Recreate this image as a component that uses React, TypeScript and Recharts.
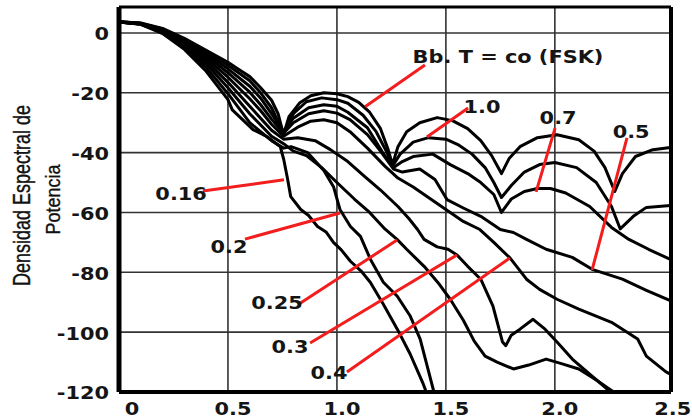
import React from 'react';
import { LineChart, Line, XAxis, YAxis, ReferenceLine, ReferenceDot } from 'recharts';

const X_MAX = 2.533;
const Y_MIN = -120;
const Y_MAX = 8.67;
const X_TICKS = [0, 0.5, 1, 1.5, 2, 2.5];
const X_TICK_LABELS = ['0', '0.5', '1.0', '1.5', '2.0', '2.5'];
const Y_TICKS = [0, -20, -40, -60, -80, -100, -120];
const X_GRID = [0.5, 1, 1.5, 2];
const Y_GRID = [0, -20, -40, -60, -80, -100];

// Normalized frequency (x) and PSD in dB (y) for each BbT
const msk = [[0,3.7],[0.1,3.3],[0.2,1.5],[0.3,-1.8],[0.4,-5.8],[0.5,-9.8],[0.55,-12.2],[0.6,-14.6],[0.65,-18.3],[0.7,-22.5],[0.73,-27],[0.755,-34],[0.78,-28],[0.83,-23.3],[0.88,-21],[0.94,-20],[1.0,-20.3],[1.05,-21.3],[1.1,-23.2],[1.15,-26.5],[1.2,-32],[1.235,-39],[1.255,-44],[1.28,-38],[1.32,-33],[1.38,-30],[1.46,-28.3],[1.53,-29.3],[1.6,-32],[1.66,-36],[1.71,-41],[1.755,-47],[1.79,-42],[1.84,-38],[1.92,-35],[2.01,-34],[2.11,-35.7],[2.18,-39.5],[2.23,-45],[2.275,-53],[2.31,-47],[2.37,-41.3],[2.45,-39],[2.53,-38.3]];
const bt10 = [[0,3.7],[0.1,3.2],[0.2,1.3],[0.3,-2.1],[0.4,-6.3],[0.5,-10.8],[0.6,-16],[0.65,-20],[0.7,-25],[0.755,-33.5],[0.8,-27],[0.86,-23],[0.93,-21.7],[1.0,-22.3],[1.05,-23.5],[1.12,-27.5],[1.18,-33],[1.23,-40],[1.255,-44.5],[1.29,-40.5],[1.35,-36.5],[1.42,-35],[1.5,-35.5],[1.56,-37.5],[1.62,-40.5],[1.68,-45],[1.72,-50],[1.755,-55],[1.8,-51],[1.86,-46.5],[1.93,-44],[2.0,-43.3],[2.1,-45],[2.19,-50],[2.26,-58],[2.3,-65.5],[2.36,-61.3],[2.42,-58.3],[2.53,-57.7]];
const bt07 = [[0,3.7],[0.1,3.2],[0.2,1.2],[0.3,-2.4],[0.4,-6.9],[0.5,-12],[0.6,-17.8],[0.65,-21.8],[0.7,-27],[0.755,-33],[0.8,-28.5],[0.87,-25],[0.94,-24],[1.0,-24.5],[1.05,-26.5],[1.14,-31.7],[1.21,-40],[1.26,-45],[1.3,-43],[1.35,-41.3],[1.44,-40.5],[1.52,-44],[1.6,-47],[1.66,-50],[1.72,-54],[1.755,-60],[1.8,-55.5],[1.86,-53],[1.92,-52],[1.98,-52],[2.05,-53.5],[2.16,-58],[2.26,-65],[2.34,-69],[2.43,-72.3],[2.53,-75.7]];
const bt05 = [[0,3.7],[0.1,3.1],[0.2,1.0],[0.3,-2.8],[0.4,-7.6],[0.5,-13.3],[0.6,-19.8],[0.65,-24],[0.7,-28.8],[0.755,-33.5],[0.8,-30],[0.87,-27],[0.94,-26],[1.0,-26.8],[1.06,-29],[1.14,-34],[1.2,-39.5],[1.26,-45.5],[1.3,-46.5],[1.38,-45.5],[1.45,-49],[1.505,-55.7],[1.58,-58.5],[1.66,-61.3],[1.75,-65.7],[1.81,-66.7],[1.87,-69],[1.96,-72.3],[2.08,-75],[2.171,-79],[2.31,-82.3],[2.42,-86],[2.53,-89.5]];
const bt04 = [[0,3.7],[0.1,3.1],[0.2,0.8],[0.3,-3.2],[0.4,-8.4],[0.5,-14.8],[0.6,-22],[0.65,-26],[0.7,-30.5],[0.755,-34.5],[0.82,-31.5],[0.88,-29.5],[0.94,-29],[1.0,-30],[1.06,-33],[1.14,-38.5],[1.22,-44.5],[1.28,-48.5],[1.35,-51.5],[1.42,-55],[1.5,-59],[1.58,-63],[1.656,-65.7],[1.72,-70],[1.794,-75.2],[1.87,-82.3],[1.93,-85.7],[2.01,-89],[2.11,-92.3],[2.26,-96.7],[2.38,-102.3],[2.42,-108],[2.51,-113.3],[2.53,-114]];
const bt03 = [[0,3.7],[0.1,3.0],[0.2,0.6],[0.3,-3.7],[0.4,-9.3],[0.5,-16.5],[0.6,-24.5],[0.7,-32.5],[0.755,-35.5],[0.82,-35],[0.9,-36],[0.97,-39],[1.05,-43],[1.12,-47.5],[1.2,-52.5],[1.28,-58],[1.33,-62],[1.37,-65.7],[1.4,-69],[1.46,-71.5],[1.51,-72.3],[1.551,-74.2],[1.6,-78],[1.66,-82.3],[1.716,-91.3],[1.76,-103.3],[1.775,-104.5],[1.8,-101],[1.84,-99],[1.9,-95.7],[1.955,-99],[2.01,-103.3],[2.08,-109],[2.16,-114],[2.24,-119],[2.26,-120]];
const bt025 = [[0,3.7],[0.1,3.0],[0.2,0.4],[0.3,-4.2],[0.4,-10.3],[0.5,-18.3],[0.6,-27],[0.7,-34.5],[0.755,-37],[0.8,-39.5],[0.86,-41],[0.93,-45],[1.0,-50],[1.08,-55.5],[1.15,-60],[1.22,-65.5],[1.276,-69],[1.32,-72.3],[1.4,-78],[1.47,-84],[1.52,-89],[1.58,-96],[1.63,-103],[1.68,-108],[1.735,-110],[1.81,-112.3],[1.88,-111],[1.96,-109],[2.03,-110.5],[2.11,-112.3],[2.19,-116],[2.27,-120]];
const bt02 = [[0,3.7],[0.1,2.9],[0.2,0.1],[0.3,-4.8],[0.4,-11.5],[0.5,-20.3],[0.6,-30],[0.7,-36],[0.755,-38.5],[0.79,-38],[0.866,-40],[0.94,-46],[0.985,-51.5],[1.014,-59],[1.062,-64.7],[1.108,-68],[1.154,-75.7],[1.213,-83.3],[1.277,-88],[1.337,-94.7],[1.382,-102.3],[1.414,-111.3],[1.445,-120]];
const bt016 = [[0,3.7],[0.1,2.9],[0.2,-0.2],[0.3,-5.5],[0.4,-12.8],[0.5,-22.3],[0.52,-25.7],[0.615,-32.3],[0.68,-34.7],[0.74,-38],[0.756,-42.3],[0.774,-49],[0.788,-54.7],[0.834,-59],[0.87,-61],[0.911,-64.7],[0.95,-66.5],[0.984,-70],[1.02,-72.5],[1.062,-76.3],[1.11,-79.5],[1.153,-83.3],[1.213,-90.7],[1.277,-99],[1.336,-107.3],[1.396,-117.3],[1.41,-120]];

const SERIES = [msk, bt10, bt07, bt05, bt04, bt03, bt025, bt02, bt016];

// annotation labels: [text, x, y]
const LABELS: [string, number, number][] = [
  ['Bb. T = co (FSK)', 1.785, -8.0],
  ['1.0', 1.666, -24.7],
  ['0.7', 2.015, -28.1],
  ['0.5', 2.35, -33.1],
  ['0.16', 0.285, -53.5],
  ['0.2', 0.505, -71.5],
  ['0.25', 0.725, -90.2],
  ['0.3', 0.785, -104.9],
  ['0.4', 0.964, -113.6],
];
// pointer segments: [x1, y1, x2, y2]
const POINTERS: [number, number, number, number][] = [
  [1.404, -10.7, 1.129, -24.7],
  [1.602, -25.1, 1.413, -34.8],
  [2.001, -31.8, 1.914, -53.1],
  [2.331, -35.1, 2.171, -79.2],
  [0.385, -52.8, 0.757, -49.1],
  [0.578, -68.9, 1.014, -60.2],
  [0.826, -90.6, 1.276, -69.2],
  [0.877, -103.6, 1.551, -74.2],
  [1.046, -113.3, 1.794, -75.2],
];

const FONT = 'DejaVu Sans';
const SX = 1.16;

function SText({ x, y, text, anchor = 'middle', dy = '0.36em' }: any) {
  return (
    <text
      transform={`translate(${x},${y}) scale(${SX},1)`}
      textAnchor={anchor}
      dy={dy}
      fontFamily={FONT}
      fontWeight="bold"
      fontSize={18}
      fill="#151515"
    >
      {text}
    </text>
  );
}

function XTick(props: any) {
  const { x, y, payload } = props;
  const i = X_TICKS.indexOf(payload.value);
  const off = payload.value === 0 ? 13 : payload.value === 2.5 ? 9 : 5;
  return <SText x={x + off} y={y} text={X_TICK_LABELS[i] ?? String(payload.value)} dy="0.73em" />;
}

function YTick(props: any) {
  const { x, y, payload } = props;
  return <SText x={x} y={y + 1} text={String(payload.value)} anchor="end" dy="0.36em" />;
}

function YTitle(props: any) {
  const vb = props.viewBox || { x: 0, y: 7, width: 119, height: 385 };
  const cy = vb.y + vb.height / 2;
  return (
    <g>
      <text
        transform={`translate(${vb.x + 30},${cy - 4}) scale(1.35,1) rotate(-90)`}
        textAnchor="middle"
        fontFamily="Liberation Sans"
        fontSize={18}
        fill="#111"
        stroke="#111"
        strokeWidth={0.3}
      >
        Densidad Espectral de
      </text>
      <text
        transform={`translate(${vb.x + 60},${cy}) scale(1.15,1) rotate(-90)`}
        textAnchor="middle"
        fontFamily="Liberation Sans"
        fontSize={18}
        fill="#111"
        stroke="#111"
        strokeWidth={0.3}
      >
        Potencia
      </text>
    </g>
  );
}

export default function App() {
  return (
    <div style={{ position: 'absolute', left: 0, top: 0, background: '#fff' }}>
      <LineChart width={692} height={419} margin={{ top: 7, right: 21, left: 0, bottom: 0 }}>
        <XAxis
          dataKey="x"
          type="number"
          domain={[0, X_MAX]}
          ticks={X_TICKS}
          allowDataOverflow
          tickLine={false}
          tickSize={10}
          tickMargin={0}
          height={27}
          axisLine={{ stroke: '#000', strokeWidth: 4 }}
          tick={<XTick />}
        />
        <YAxis
          dataKey="y"
          type="number"
          domain={[Y_MIN, Y_MAX]}
          ticks={Y_TICKS}
          allowDataOverflow
          tickLine={false}
          tickSize={10}
          tickMargin={0}
          width={119}
          axisLine={{ stroke: '#000', strokeWidth: 5 }}
          tick={<YTick />}
          label={{ content: (p: any) => <YTitle {...p} /> }}
        />
        {X_GRID.map((v) => (
          <ReferenceLine key={'gx' + v} x={v} stroke="#333" strokeWidth={1.6} />
        ))}
        {Y_GRID.map((v) => (
          <ReferenceLine key={'gy' + v} y={v} stroke="#333" strokeWidth={1.6} />
        ))}
        <ReferenceLine y={Y_MAX} stroke="#000" strokeWidth={3} />
        <ReferenceLine x={X_MAX} stroke="#000" strokeWidth={4} />
        {SERIES.map((s, i) => (
          <Line
            key={'s' + i}
            data={s.map(([x, y]) => ({ x, y }))}
            dataKey="y"
            type="linear"
            stroke="#000"
            strokeWidth={3}
            strokeLinejoin="round"
            dot={false}
            activeDot={false}
            isAnimationActive={false}
          />
        ))}
        {POINTERS.map(([x1, y1, x2, y2], i) => (
          <ReferenceLine
            key={'p' + i}
            segment={[{ x: x1, y: y1 }, { x: x2, y: y2 }]}
            stroke="#f21d1d"
            strokeWidth={3}
          />
        ))}
        {LABELS.map(([t, x, y], i) => (
          <ReferenceDot
            key={'l' + i}
            x={x}
            y={y}
            r={0}
            shape={(p: any) => <SText x={p.cx} y={p.cy} text={t} />}
          />
        ))}
      </LineChart>
    </div>
  );
}
